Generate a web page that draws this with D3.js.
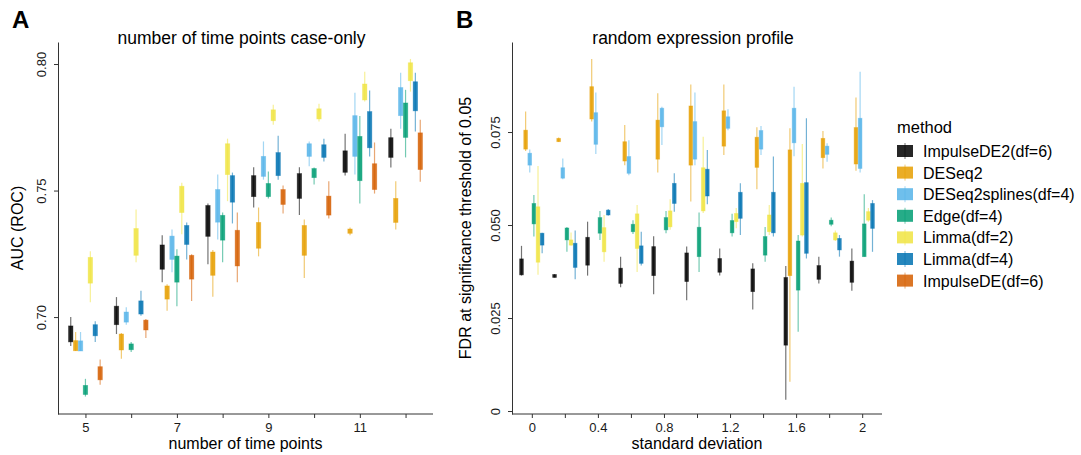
<!DOCTYPE html>
<html>
<head>
<meta charset="utf-8">
<script src="https://cdn.jsdelivr.net/npm/d3@7"></script>
<style>
  body { margin: 0; background: #fff; }
  text { font-family: "Liberation Sans", Arial, sans-serif; }
</style>
</head>
<body>
<svg id="chart" width="1081" height="455"></svg>
<script>
// methods shown in the legend (ImpulseDE has no values in panel B)
const methods = ["ImpulseDE2(df=6)", "DESeq2", "DESeq2splines(df=4)", "Edge(df=4)",
                 "Limma(df=2)", "Limma(df=4)", "ImpulseDE(df=6)"];
const methodColors = ["#000000", "#E69F00", "#56B4E9", "#009E73", "#F0E442", "#0072B2", "#D55E00"];

// panel A: number of time points
const timePoints = ["5", "6", "7", "8", "9", "10", "11", "12"];
const timeTickLabels = ["5", "7", "9", "11"];
const aucTicks = [0.70, 0.75, 0.80];
// per time point, per method: [lower whisker, q1, q3, upper whisker]
const aucStats = [
  [[.6886,.6902,.6965,.7000],[.6866,.6867,.6907,.6941],[.6866,.6866,.6906,.6941],[.6686,.6694,.6730,.6756],[.7059,.7134,.7236,.7260],[.6902,.6926,.6970,.6984],[.6733,.6752,.6804,.6832]],
  [[.6933,.6970,.7043,.7079],[.6835,.6870,.6933,.6937],[.6970,.6980,.7020,.7039],[.6862,.6871,.6894,.6902],[.7217,.7244,.7350,.7425],[.7005,.7012,.7064,.7104],[.6917,.6949,.6988,.6992]],
  [[.7138,.7189,.7285,.7323],[.7025,.7071,.7123,.7130],[.7177,.7228,.7320,.7346],[.7043,.7138,.7241,.7268],[.7327,.7413,.7517,.7531],[.7228,.7287,.7362,.7374],[.7064,.7150,.7244,.7248]],
  [[.7209,.7319,.7441,.7449],[.7080,.7165,.7257,.7265],[.7307,.7375,.7504,.7563],[.7217,.7304,.7402,.7413],[.7458,.7563,.7685,.7705],[.7370,.7454,.7559,.7571],[.7138,.7202,.7343,.7413]],
  [[.7433,.7476,.7559,.7592],[.7240,.7272,.7374,.7433],[.7543,.7556,.7635,.7694],[.7469,.7476,.7528,.7575],[.7760,.7776,.7819,.7839],[.7543,.7559,.7650,.7717],[.7409,.7445,.7504,.7520]],
  [[.7403,.7469,.7567,.7592],[.7154,.7244,.7362,.7386],[.7596,.7635,.7685,.7694],[.7524,.7551,.7587,.7591],[.7773,.7783,.7823,.7843],[.7615,.7631,.7681,.7705],[.7390,.7403,.7478,.7537]],
  [[.7559,.7572,.7657,.7724],[.7323,.7331,.7348,.7354],[.7563,.7635,.7796,.7886],[.7449,.7539,.7714,.7795],[.7852,.7858,.7921,.7969],[.7635,.7669,.7812,.7895],[.7488,.7504,.7606,.7690]],
  [[.7591,.7631,.7709,.7744],[.7346,.7374,.7469,.7537],[.7744,.7796,.7907,.7965],[.7631,.7710,.7846,.7898],[.7891,.7934,.8005,.8020],[.7733,.7815,.7930,.7965],[.7535,.7583,.7728,.7780]]
];

// panel B: standard deviation of random expression
const sdLevels = ["0", "0.2", "0.4", "0.6", "0.8", "1", "1.2", "1.4", "1.6", "1.8", "2"];
const sdTickLabels = ["0", "0.4", "0.8", "1.2", "1.6", "2"];
const fdrTicks = [0, 0.025, 0.05, 0.075];
const fdrStats = [
  [[.0364,.0366,.0409,.0444],[.0699,.0704,.0755,.0805],[.0641,.0661,.0693,.0703],[.0469,.0503,.0558,.0581],[.0366,.0400,.0549,.0659],[.0424,.0446,.0478,.0479]],
  [[.0359,.0359,.0367,.0368],[.0723,.0724,.0733,.0735],[.0623,.0626,.0654,.0679],[.0428,.0460,.0492,.0495],[.0444,.0446,.0460,.0480],[.0354,.0386,.0451,.0485]],
  [[.0364,.0392,.0467,.0509],[.0778,.0785,.0872,.0946],[.0691,.0717,.0802,.0856],[.0460,.0478,.0520,.0538],[.0401,.0428,.0493,.0527],[.0525,.0527,.0540,.0543]],
  [[.0333,.0343,.0384,.0415],[.0661,.0672,.0724,.0769],[.0634,.0639,.0684,.0728],[.0476,.0482,.0502,.0513],[.0374,.0437,.0530,.0554],[.0391,.0397,.0444,.0482]],
  [[.0314,.0364,.0442,.0470],[.0641,.0677,.0782,.0854],[.0715,.0764,.0814,.0818],[.0478,.0487,.0520,.0538],[.0487,.0495,.0538,.0569],[.0536,.0558,.0612,.0639]],
  [[.0298,.0348,.0425,.0442],[.0563,.0661,.0820,.0878],[.0661,.0677,.0778,.0856],[.0374,.0415,.0494,.0534],[.0532,.0538,.0654,.0737],[.0556,.0578,.0650,.0702]],
  [[.0364,.0373,.0410,.0437],[.0688,.0712,.0807,.0878],[.0755,.0760,.0791,.0811],[.0469,.0479,.0512,.0530],[.0491,.0509,.0531,.0546],[.0473,.0518,.0588,.0612]],
  [[.0273,.0321,.0382,.0397],[.0596,.0655,.0736,.0763],[.0688,.0704,.0754,.0766],[.0401,.0419,.0469,.0495],[.0473,.0482,.0527,.0554],[.0469,.0479,.0588,.0684]],
  [[.0030,.0177,.0359,.0390],[.0079,.0364,.0702,.0760],[.0685,.0721,.0814,.0872],[.0213,.0325,.0457,.0473],[.0469,.0473,.0612,.0718],[.0410,.0424,.0614,.0787]],
  [[.0343,.0354,.0391,.0415],[.0652,.0681,.0733,.0753],[.0670,.0690,.0712,.0720],[.0497,.0502,.0513,.0520],[.0457,.0460,.0479,.0485],[.0415,.0433,.0464,.0473]],
  [[.0323,.0346,.0403,.0437],[.0646,.0664,.0762,.0843],[.0641,.0652,.0787,.0912],[.0415,.0415,.0503,.0583],[.0509,.0513,.0536,.0546],[.0428,.0491,.0558,.0567]]
];

const svg = d3.select("#chart");
const color = d3.scaleOrdinal().domain(methods).range(methodColors);

function drawPanel(p) {
  const g = svg.append("g");

  const x = d3.scalePoint()
      .domain(p.categories)
      .range([p.left, p.right])
      .padding(0.6);

  const y = d3.scaleLinear()
      .domain(p.yDomain)
      .range([p.bottom, p.top]);

  const dodge = d3.scaleBand()
      .domain(p.methods)
      .range([-x.step() * 0.375, x.step() * 0.375]);

  const boxW = dodge.bandwidth() * 0.9;

  const rows = [];
  p.categories.forEach((cat, i) => {
    p.methods.forEach((m, j) => {
      const s = p.stats[i][j];
      rows.push({ cat, method: m, low: s[0], q1: s[1], q3: s[2], high: s[3] });
    });
  });

  const cx = d => x(d.cat) + dodge(d.method) + dodge.bandwidth() / 2;

  // whiskers
  g.selectAll(".whisker")
    .data(rows)
    .enter()
    .append("line")
    .attr("x1", cx).attr("x2", cx)
    .attr("y1", d => y(d.low))
    .attr("y2", d => y(d.high))
    .style("stroke", d => color(d.method))
    .style("stroke-opacity", 0.55)
    .style("stroke-width", 1.2);

  // boxes
  g.selectAll(".box")
    .data(rows)
    .enter()
    .append("rect")
    .attr("x", d => cx(d) - boxW / 2)
    .attr("y", d => y(d.q3))
    .attr("width", boxW)
    .attr("height", d => Math.max(1.5, y(d.q1) - y(d.q3)))
    .style("fill", d => color(d.method))
    .style("fill-opacity", 0.85)
    .style("stroke", d => color(d.method))
    .style("stroke-opacity", 0.45)
    .style("stroke-width", 0.8);

  // x axis
  const xAxis = g.append("g")
      .attr("transform", `translate(0,${p.bottom})`)
      .call(d3.axisBottom(x)
        .tickSize(4)
        .tickSizeOuter(0)
        .tickFormat(d => p.xLabels.includes(d) ? d : ""));
  xAxis.select(".domain").attr("d", `M${p.left},0H${p.right}`);
  xAxis.selectAll("line, path").style("stroke", "#333");
  xAxis.selectAll("text")
    .attr("y", 9)
    .style("font-size", "13px")
    .style("fill", "#1a1a1a");

  // y axis
  const yAxis = g.append("g")
      .attr("transform", `translate(${p.left},0)`)
      .call(d3.axisLeft(y)
        .tickValues(p.yTicks)
        .tickSize(4)
        .tickSizeOuter(0)
        .tickFormat(p.yFormat));
  yAxis.selectAll("line, path").style("stroke", "#333");
  yAxis.selectAll("text")
    .attr("x", 0)
    .attr("y", -12)
    .attr("dy", 0)
    .attr("transform", "rotate(-90)")
    .style("text-anchor", "middle")
    .style("font-size", "13px")
    .style("fill", "#1a1a1a");

  // titles
  svg.append("text")
    .attr("x", (p.left + p.right) / 2 - 4)
    .attr("y", 44)
    .attr("text-anchor", "middle")
    .style("font-size", "17.5px")
    .text(p.title);

  svg.append("text")
    .attr("x", (p.left + p.right) / 2)
    .attr("y", 449)
    .attr("text-anchor", "middle")
    .style("font-size", "16px")
    .text(p.xTitle);

  svg.append("text")
    .attr("transform", `translate(${p.left - p.yTitleGap},${(p.top + p.bottom) / 2}) rotate(-90)`)
    .attr("text-anchor", "middle")
    .style("font-size", "16px")
    .text(p.yTitle);

  svg.append("text")
    .attr("x", p.letterX)
    .attr("y", 28)
    .style("font-size", "24px")
    .style("font-weight", "bold")
    .text(p.letter);
}

drawPanel({
  letter: "A", letterX: 12,
  title: "number of time points case-only",
  xTitle: "number of time points",
  yTitle: "AUC (ROC)", yTitleGap: 35,
  categories: timePoints, xLabels: timeTickLabels,
  methods: methods, stats: aucStats,
  left: 58, right: 433, top: 42, bottom: 414,
  yDomain: [0.6617, 0.8087], yTicks: aucTicks,
  yFormat: d3.format(".2f")
});

drawPanel({
  letter: "B", letterX: 456,
  title: "random expression profile",
  xTitle: "standard deviation",
  yTitle: "FDR at significance threshold of 0.05", yTitleGap: 41,
  categories: sdLevels, xLabels: sdTickLabels,
  methods: methods.slice(0, 6), stats: fdrStats,
  left: 512, right: 882, top: 42, bottom: 414,
  yDomain: [-0.0008, 0.0992], yTicks: fdrTicks,
  yFormat: d => d === 0 ? "0" : d3.format(".3f")(d)
});

// legend
const legend = svg.append("g").attr("transform", "translate(897,0)");
legend.append("text")
  .attr("x", 0).attr("y", 133)
  .style("font-size", "16.5px")
  .text("method");

const item = legend.selectAll(".item")
  .data(methods)
  .enter()
  .append("g")
  .attr("transform", (d, i) => `translate(0,${151 + i * 21.6})`);

item.append("line")
  .attr("x1", 8).attr("x2", 8)
  .attr("y1", -8).attr("y2", 8)
  .style("stroke", d => color(d))
  .style("stroke-opacity", 0.55);

item.append("rect")
  .attr("x", 0).attr("y", -6)
  .attr("width", 16).attr("height", 12)
  .style("fill", d => color(d))
  .style("fill-opacity", 0.85);

item.append("text")
  .attr("x", 26).attr("y", 6)
  .style("font-size", "16px")
  .text(d => d);
</script>
</body>
</html>
